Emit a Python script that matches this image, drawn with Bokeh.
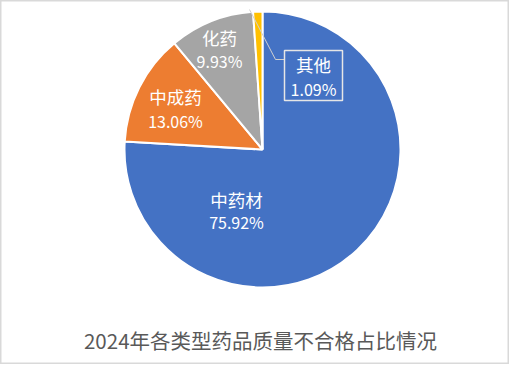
import math
from bokeh.plotting import figure
from bokeh.models import Range1d, ColumnDataSource
from bokeh.core.properties import value
from bokeh.embed import file_html
from bokeh.resources import INLINE

categories = ["中药材", "中成药", "化药", "其他"]
shares = [75.92, 13.06, 9.93, 1.09]
colors = ["#4472C4", "#ED7D31", "#A5A5A5", "#FFC000"]
title = "2024年各类型药品质量不合格占比情况"

W, H = 509, 364
cx, cy, R = 262, 215, 138
FONT = "Noto Sans CJK SC"

total = sum(shares)
starts, ends = [], []
acc = 0.0
for s in shares:
    a0 = math.pi / 2 - 2 * math.pi * acc / total
    acc += s
    a1 = math.pi / 2 - 2 * math.pi * acc / total
    starts.append(a1)
    ends.append(a0)

p = figure(width=W, height=H, output_backend="svg", toolbar_location=None,
           x_range=Range1d(0, W), y_range=Range1d(0, H), min_border=0,
           background_fill_color="white", border_fill_color="white")
p.axis.visible = False
p.grid.visible = False
p.outline_line_color = "#d9d9d9"
p.outline_line_width = 2

src = ColumnDataSource(dict(x=[cx] * 4, y=[cy] * 4, start=starts, end=ends, color=colors))
p.wedge(x="x", y="y", radius=R, start_angle="start", end_angle="end", fill_color="color",
        line_color="white", line_width=2, source=src)

# label anchors (fig coords)
label_pos = [(236, 165, 143), (175, 268, 244), (219, 327, 304), (313, 300, 276)]
lx, ly1, ly2, t1, t2 = [], [], [], [], []
for (x, y1, y2), c, s in zip(label_pos, categories, shares):
    lx.append(x)
    ly1.append(y1)
    ly2.append(y2)
    t1.append(c)
    t2.append(f"{s:.2f}%")

# leader line and box for small slice
p.line(x=[249, 275, 284], y=[355, 305, 305], line_color="#d0d0d0", line_width=1)
p.quad(left=[284], right=[342], top=[314], bottom=[264], fill_alpha=0,
       line_color="#e6e6e6", line_width=1.5)

p.text(x=lx, y=ly1, text=t1, text_color="white", text_font=value(FONT),
       text_font_size="17.5px", text_align="center", text_baseline="middle")
p.text(x=lx, y=ly2, text=t2, text_color="white", text_font=value(FONT),
       text_font_size="16px", text_align="center", text_baseline="middle")

p.text(x=[260], y=[25], text=[title], text_color="#595959", text_font=value(FONT),
       text_font_size="20.5px", text_align="center", text_baseline="middle")

open("out.html", "w").write(file_html(p, INLINE))
